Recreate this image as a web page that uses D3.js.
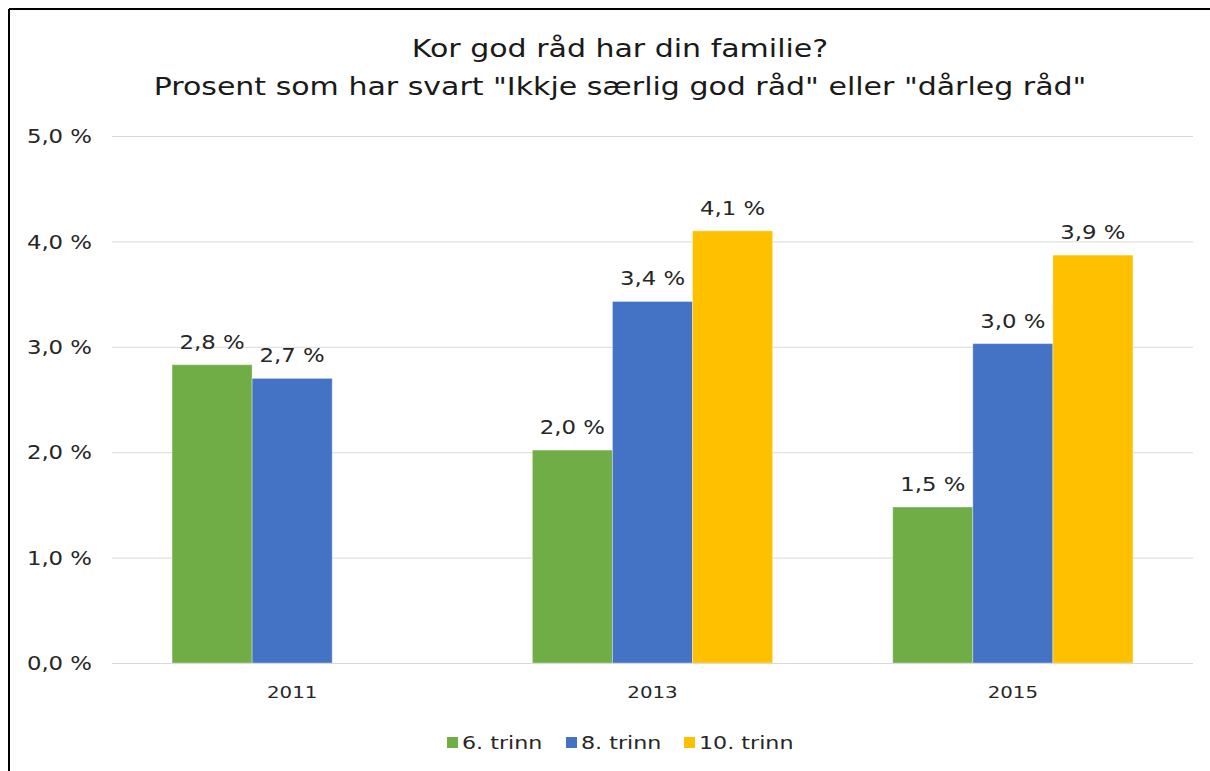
<!DOCTYPE html>
<html><head><meta charset="utf-8">
<script src="https://cdn.jsdelivr.net/npm/d3@7"></script>
<style>body{margin:0;background:#fff}svg{display:block}</style>
</head><body>
<svg id="c" width="1210" height="771"></svg>
<script>
const titleLines = ["Kor god råd har din familie?", "Prosent som har svart \"Ikkje særlig god råd\" eller \"dårleg råd\""];
const categories = ["2011", "2013", "2015"];
const seriesNames = ["6. trinn", "8. trinn", "10. trinn"];
const seriesColors = ["#70AD47", "#4472C4", "#FFC000"];
const trinn6 = [2.83, 2.02, 1.48];
const trinn8 = [2.70, 3.43, 3.03];
const trinn10 = [null, 4.10, 3.87];
const yTicks = [0, 1, 2, 3, 4, 5];

(function () {
const series = [trinn6, trinn8, trinn10];
const svg = d3.select("#c");
const font = "'DejaVu Sans', Verdana, sans-serif";
const SX = 1.2; // horizontal stretch of the wide text face
const txtCol = "#262626";
const fmt = v => d3.format(".1f")(v).replace(".", ",") + " %";

function placeText(sel, x, y) {
  sel.attr("x", 0).attr("y", 0).attr("transform", `translate(${x},${y}) scale(${SX},1)`);
  return sel;
}

// frame (cropped: only top and left visible)
svg.append("line").attr("x1", 9).attr("x2", 1210).attr("y1", 9).attr("y2", 9).attr("stroke", "#000").attr("stroke-width", 2);
svg.append("line").attr("x1", 9).attr("x2", 9).attr("y1", 9).attr("y2", 771).attr("stroke", "#000").attr("stroke-width", 2);

const pl = 112, pr = 1193, pt = 136, pb = 663;
const x = d3.scaleBand().domain(categories).range([pl, pr]).paddingInner(1/3).paddingOuter(1/6);
const xs = d3.scaleBand().domain(seriesNames).range([0, x.bandwidth()]);
const y = d3.scaleLinear().domain([0, 5]).range([pb, pt]);

// title
titleLines.forEach((t, i) => {
  placeText(svg.append("text"), 620, 57 + i * 38)
    .attr("text-anchor", "middle").attr("font-family", font)
    .attr("font-size", 25).attr("fill", "#1a1a1a").text(t);
});

// grid + y axis
const yAxis = d3.axisLeft(y).tickValues(yTicks).tickSize(-(pr - pl)).tickPadding(0).tickFormat(fmt);
const gy = svg.append("g").attr("transform", `translate(${pl},0)`).call(yAxis);
gy.select(".domain").remove();
gy.selectAll(".tick line").attr("stroke", "#D9D9D9").attr("stroke-width", 1);
gy.selectAll(".tick text").attr("font-family", font).attr("font-size", 19).attr("fill", txtCol)
  .attr("dy", "0.35em").each(function () { placeText(d3.select(this), -20, 0); });

// bars
categories.forEach((c, ci) => {
  series.forEach((s, si) => {
    const v = s[ci];
    if (v == null) return;
    const bx = x(c) + xs(seriesNames[si]);
    svg.append("rect").attr("x", bx).attr("y", y(v)).attr("width", xs.bandwidth()).attr("height", y(0) - y(v))
      .attr("fill", seriesColors[si]).attr("stroke", "#fff").attr("stroke-opacity", 0.35).attr("stroke-width", 1);
    placeText(svg.append("text"), bx + xs.bandwidth() / 2, y(v) - 16)
      .attr("text-anchor", "middle").attr("font-family", font).attr("font-size", 19).attr("fill", txtCol)
      .text(fmt(v));
  });
});

// x axis
const xAxis = d3.axisBottom(x).tickSize(0).tickPadding(0);
const gx = svg.append("g").attr("transform", `translate(0,${pb})`).call(xAxis);
gx.select(".domain").attr("stroke", "#D9D9D9").attr("d", `M${pl},0.5H${pr}`);
gx.selectAll(".tick text").attr("font-family", font).attr("font-size", 16.5).attr("fill", txtCol)
  .attr("dy", null).each(function () { placeText(d3.select(this), 0, 35); });

// legend
const legX = [447, 566, 684];
const lg = svg.append("g");
seriesNames.forEach((n, i) => {
  lg.append("rect").attr("x", legX[i]).attr("y", 737).attr("width", 11).attr("height", 11).attr("fill", seriesColors[i]);
  placeText(lg.append("text"), legX[i] + 15, 749).attr("font-family", font).attr("font-size", 18.5)
    .attr("fill", txtCol).text(n);
});
})();
</script>
</body></html>
